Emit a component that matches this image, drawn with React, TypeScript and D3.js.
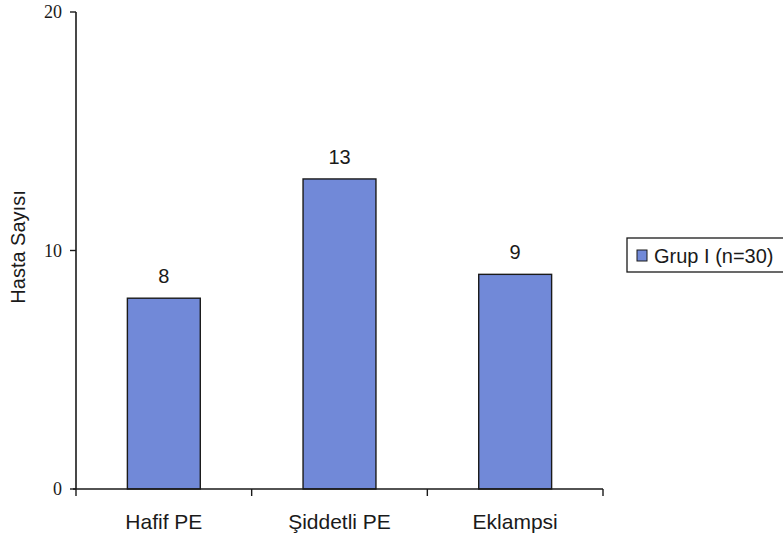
import React from "react";
import * as d3 from "d3";

const categories = ["Hafif PE", "Şiddetli PE", "Eklampsi"];
const values = [8, 13, 9];
const yTicks = [0, 10, 20];
const seriesName = "Grup I (n=30)";
const yTitle = "Hasta Sayısı";

const W = 783;
const H = 541;
const left = 76;
const right = 603;
const top = 12;
const bottom = 489;
const barFill = "#7189d8";
const ink = "#1a1a1a";
const sans = "'Liberation Sans', Arial, sans-serif";
const serif = "'Liberation Serif', 'Times New Roman', serif";

export default function App() {
  const x = d3.scaleBand<string>().domain(categories).range([left, right]).paddingInner(0.585).paddingOuter(0.2925);
  const y = d3.scaleLinear().domain([0, 20]).range([bottom, top]);
  const edges = d3.range(categories.length + 1).map((i) => left + (i * (right - left)) / categories.length);

  return (
    <svg width={W} height={H} style={{ position: "absolute", left: 0, top: 0, background: "#fff" }}>
      {/* bars */}
      {values.map((v, i) => (
        <g key={categories[i]}>
          <rect
            x={x(categories[i])}
            y={y(v)}
            width={x.bandwidth()}
            height={bottom - y(v)}
            fill={barFill}
            stroke={ink}
            strokeWidth={1.4}
          />
          <text
            x={(x(categories[i]) as number) + x.bandwidth() / 2}
            y={y(v) - 15}
            textAnchor="middle"
            fontFamily={sans}
            fontSize={20}
            fill={ink}
          >
            {v}
          </text>
          <text
            x={(x(categories[i]) as number) + x.bandwidth() / 2}
            y={529}
            textAnchor="middle"
            fontFamily={sans}
            fontSize={21}
            fill={ink}
          >
            {categories[i]}
          </text>
        </g>
      ))}

      {/* y axis */}
      <line x1={left} y1={top} x2={left} y2={bottom} stroke={ink} strokeWidth={1.6} />
      {yTicks.map((t) => (
        <g key={t}>
          <line x1={left - 6} y1={y(t)} x2={left} y2={y(t)} stroke={ink} strokeWidth={1.4} />
          <text x={left - 14} y={y(t) + 6} textAnchor="end" fontFamily={serif} fontSize={18} fill={ink}>
            {t}
          </text>
        </g>
      ))}

      {/* x axis */}
      <line x1={left - 3} y1={bottom} x2={right} y2={bottom} stroke={ink} strokeWidth={1.6} />
      {edges.map((e, i) => (
        <line key={i} x1={e} y1={bottom} x2={e} y2={bottom + 7} stroke={ink} strokeWidth={1.4} />
      ))}

      {/* axis title */}
      <text
        transform={`translate(25, 247) rotate(-90)`}
        textAnchor="middle"
        fontFamily={sans}
        fontSize={20}
        fill={ink}
      >
        {yTitle}
      </text>

      {/* legend */}
      <rect x={627} y={238} width={170} height={34} fill="#fff" stroke={ink} strokeWidth={1.3} />
      <rect x={637} y={250} width={10} height={11} fill={barFill} stroke={ink} strokeWidth={1} />
      <text x={654} y={263} fontFamily={sans} fontSize={20} fill={ink}>
        {seriesName}
      </text>
    </svg>
  );
}
